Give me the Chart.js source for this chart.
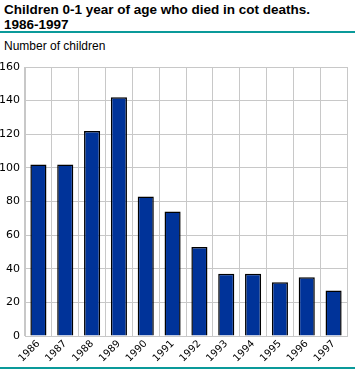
<!DOCTYPE html>
<html>
<head>
<meta charset="utf-8">
<script src="https://cdn.jsdelivr.net/npm/chart.js@4"></script>
<style>
body{margin:0;background:#fff;font-family:"DejaVu Sans",Verdana,sans-serif;}
#wrap{position:relative;width:355px;height:370px;}
#title{position:absolute;left:4px;top:2px;font-family:"Liberation Sans",Arial,sans-serif;font-size:13.5px;font-weight:bold;line-height:15px;color:#000;white-space:nowrap;}
#line1{position:absolute;left:0;top:31px;width:355px;height:2px;background:#0a9a9a;}
#unit{position:absolute;left:4px;top:39px;font-family:"Liberation Sans",Arial,sans-serif;font-size:12px;color:#000;}
#line2{position:absolute;left:0;top:367px;width:355px;height:2px;background:#0a9a9a;}
#box{position:absolute;left:0;top:55px;width:355px;height:311px;}
</style>
</head>
<body>
<div id="wrap">
  <div id="title">Children 0-1 year of age who died in cot deaths.<br>1986-1997</div>
  <div id="line1"></div>
  <div id="unit">Number of children</div>
  <div id="box"><canvas id="chart"></canvas></div>
  <div id="line2"></div>
</div>
<script>
const years = ["1986","1987","1988","1989","1990","1991","1992","1993","1994","1995","1996","1997"];
const deaths = [102,102,122,142,83,74,53,37,37,32,35,27];
const yTicks = [0,20,40,60,80,100,120,140,160];

new Chart(document.getElementById("chart"),{
    type:'bar',
    data:{
        labels: years,
        datasets:[{
            data: deaths,
            backgroundColor:"#003399",
            borderColor:"#000",
            borderWidth:1.5,
            categoryPercentage:1,
            barPercentage:0.6
        }]
    },
    options:{
        responsive:true,
        maintainAspectRatio:false,
        animation:false,
        layout:{ padding:{ top:12, right:8, left:0, bottom:0 } },
        plugins:{ legend:{ display:false }, tooltip:{ enabled:false } },
        scales:{
            x:{
                grid:{ color:"#c8c8c8", offset:true, drawTicks:false },
                border:{ color:"#c8c8c8" },
                ticks:{ color:"#000", font:{ family:"DejaVu Sans", size:10 }, maxRotation:45, minRotation:45, padding:2 },
                afterFit: s => { s.height = 30; }
            },
            y:{
                min:0, max:160,
                afterBuildTicks: s => { s.ticks = yTicks.map(v => ({ value:v })); },
                grid:{ color:"#c8c8c8", drawTicks:false },
                border:{ color:"#c8c8c8" },
                ticks:{ color:"#000", font:{ family:"DejaVu Sans", size:11 }, padding:5 },
                afterFit: s => { s.width = 25; }
            }
        }
    }
});
</script>
</body>
</html>
